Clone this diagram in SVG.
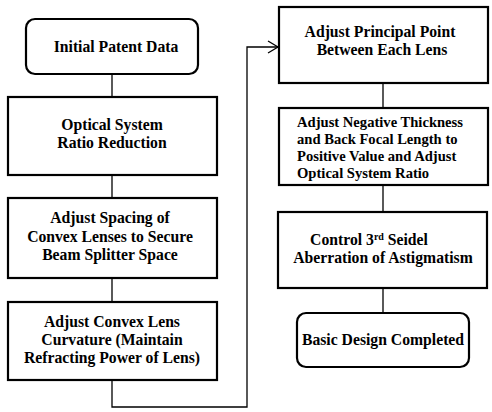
<svg xmlns="http://www.w3.org/2000/svg" width="492" height="412" viewBox="0 0 492 412">
<style>
.box{fill:#fff;stroke:#000;stroke-width:2.2}
.t{font-family:"Liberation Serif","Times New Roman",serif;font-weight:bold;font-size:15.7px;fill:#000;text-anchor:middle}
.tl{font-family:"Liberation Serif","Times New Roman",serif;font-weight:bold;font-size:14.6px;fill:#000}
.c{fill:none;stroke:#000;stroke-width:1.3}
</style>
<rect width="492" height="412" fill="#fff"/>
<g id="connectors">
<line class="c" x1="112" y1="74" x2="112" y2="97"/>
<line class="c" x1="112" y1="175" x2="112" y2="198"/>
<line class="c" x1="112" y1="278" x2="112" y2="302"/>
<polyline class="c" points="112,380 112,407 247,407 247,47 278,47"/>
<polyline class="c" points="268,41 278,47 268,53"/>
<line class="c" x1="383" y1="83" x2="383" y2="108"/>
<line class="c" x1="383" y1="185" x2="383" y2="212"/>
<line class="c" x1="383" y1="288" x2="383" y2="313"/>
</g>
<g id="n1"><rect class="box" x="26" y="19" width="172" height="55" rx="9"/><text class="t" x="116" y="52">Initial Patent Data</text></g>
<g id="n2"><rect class="box" x="8" y="97" width="209" height="78"/><text class="t" x="112" y="130">Optical System</text><text class="t" x="112" y="148">Ratio Reduction</text></g>
<g id="n3"><rect class="box" x="8" y="198" width="209" height="80"/><text class="t" x="110" y="223">Adjust Spacing of</text><text class="t" x="110" y="242">Convex Lenses to Secure</text><text class="t" x="110" y="260">Beam Splitter Space</text></g>
<g id="n4"><rect class="box" x="8" y="302" width="209" height="78"/><text class="t" x="112" y="327">Adjust Convex Lens</text><text class="t" x="112" y="345">Curvature (Maintain</text><text class="t" x="112" y="363">Refracting Power of Lens)</text></g>
<g id="n5"><rect class="box" x="279" y="7" width="209" height="76"/><text class="t" x="380" y="37">Adjust Principal Point</text><text class="t" x="382" y="55">Between Each Lens</text></g>
<g id="n6"><rect class="box" x="279" y="108" width="209" height="77"/><text class="tl" x="297" y="127">Adjust Negative Thickness</text><text class="tl" x="297" y="144">and Back Focal Length to</text><text class="tl" x="297" y="161">Positive Value and Adjust</text><text class="tl" x="297" y="178">Optical System Ratio</text></g>
<g id="n7"><rect class="box" x="278" y="212" width="209" height="76"/><text class="t" x="369" y="245">Control 3<tspan font-size="10" dy="-5">rd</tspan><tspan dy="5"> Seidel</tspan></text><text class="t" x="383" y="263">Aberration of Astigmatism</text></g>
<g id="n8"><rect class="box" x="297" y="313" width="172" height="54" rx="9"/><text class="t" x="383" y="345">Basic Design Completed</text></g>
</svg>
